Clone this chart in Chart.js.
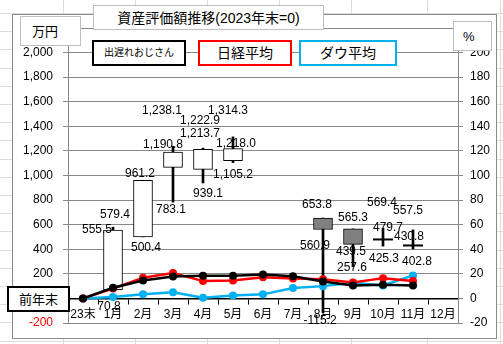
<!DOCTYPE html>
<html>
<head>
<meta charset="utf-8">
<script src="https://cdn.jsdelivr.net/npm/chart.js@4.4.0/dist/chart.umd.min.js"></script>
<style>
  html, body { margin: 0; padding: 0; }
  body {
    width: 503px; height: 344px; position: relative; overflow: hidden;
    background-color: #fff;
    background-image:
      repeating-linear-gradient(to bottom, #dcdcdc 0, #dcdcdc 1px, transparent 1px, transparent 18.2px),
      linear-gradient(to right,
        transparent 63px, #dcdcdc 63px, #dcdcdc 64px, transparent 64px,
        transparent 135px, #dcdcdc 135px, #dcdcdc 136px, transparent 136px,
        transparent 207px, #dcdcdc 207px, #dcdcdc 208px, transparent 208px,
        transparent 279px, #dcdcdc 279px, #dcdcdc 280px, transparent 280px,
        transparent 351px, #dcdcdc 351px, #dcdcdc 352px, transparent 352px,
        transparent 427px, #dcdcdc 427px, #dcdcdc 428px, transparent 428px,
        transparent 500px, #dcdcdc 500px, #dcdcdc 501px, transparent 501px);
    background-position: 0 13px, 0 0;
    font-family: 'Liberation Sans', 'Noto Sans CJK JP', sans-serif;
  }
  #c { position: absolute; left: 0; top: 0; }
  .box {
    position: absolute; box-sizing: border-box; background: #fff;
    display: flex; align-items: center; justify-content: center;
    line-height: 1; color: #000; white-space: nowrap; z-index: 2;
  }
</style>
</head>
<body>
<canvas id="c" width="503" height="344"></canvas>

<div class="box" style="left:93px;top:5px;width:231px;height:25px;border:1px solid #bfbfbf;font-size:14px;">資産評価額推移(2023年末=0)</div>
<div class="box" style="left:20px;top:16px;width:61px;height:30px;border:1px solid #bfbfbf;font-size:13px;justify-content:flex-start;padding-left:11px;">万円</div>
<div class="box" style="left:453px;top:21px;width:39px;height:30px;border:1px solid #bfbfbf;font-size:13px;justify-content:flex-start;padding-left:9px;">%</div>
<div class="box" style="left:92px;top:40px;width:94px;height:26px;border:2px solid #000;font-size:10px;">出遅れおじさん</div>
<div class="box" style="left:198px;top:40px;width:94px;height:26px;border:2px solid #ff0000;font-size:14px;">日経平均</div>
<div class="box" style="left:299px;top:40px;width:98px;height:26px;border:2px solid #00b0f0;font-size:14px;">ダウ平均</div>
<div class="box" style="left:7px;top:286px;width:63px;height:26px;border:2px solid #000;font-size:13px;">前年末</div>

<script>
// months
const labels = ['23末','1月','2月','3月','4月','5月','6月','7月','8月','9月','10月','11月','12月'];

// 出遅れおじさん 資産 (万円) : 始値・高値・安値・終値
const openVals  = [null, 70.8, 500.4, 1066, 1050, 1120, null, null, 653.8, 565.3, 479.7, 430.8, null];
const highVals  = [null, 579.4, 961.2, 1238.1, 1222.9, 1314.3, null, null, 653.8, 565.3, 569.4, 557.5, null];
const lowVals   = [null, 70.8, 500.4, 783.1, 939.1, 1105.2, null, null, -115.2, 257.6, 425.3, 402.8, null];
const closeVals = [null, 555.5, 961.2, 1190.8, 1213.7, 1218.0, null, null, 560.9, 439.5, 479.7, 430.8, null];

// 騰落率 (%)
const ojisanPct = [0, 8.7, 14.6, 17.9, 18.4, 18.4, 19.5, 18.1, 13.8, 10.6, 11.1, 10.6, null];
const nikkeiPct = [0, 8.0, 16.8, 20.6, 14.1, 14.6, 17.3, 16.2, 15.5, 13.0, 16.5, 14.1, null];
const dowPct    = [0, 1.1, 3.3, 5.1, 0.6, 2.4, 3.3, 8.4, 10.0, 12.8, 10.6, 18.7, null];

// which value each data label shows, and its nudge (px) from that point
const labelSpots = [
  [1,'c',-16,0],[1,'h',2,-13],[1,'l',-4,17],
  [2,'h',-3,-7],[2,'l',3,11],
  [3,'h',-11,-36],[3,'c',-10,-7],[3,'l',-2,8],
  [4,'h',-3,-27],[4,'c',-3,-16],[4,'l',5,11],
  [5,'h',-5,-26],[5,'c',3,-5],[5,'l',0,12],
  [8,'o',-6,-13],[8,'c',-8,16],[8,'l',-3,8],
  [9,'h',0,-11],[9,'c',-2,7],[9,'l',-1,1],
  [10,'h',-1,-26],[10,'c',5,-12],[10,'l',1,13],
  [11,'h',-5,-19],[11,'c',-4,-9],[11,'l',4,13]
];

const series = { o: openVals, h: highVals, l: lowVals, c: closeVals };

const wickData = labels.map((_, i) => highVals[i] == null ? null : [lowVals[i], highVals[i]]);
const bodyData = labels.map((_, i) => (openVals[i] == null || openVals[i] === closeVals[i]) ? null : [openVals[i], closeVals[i]]);
const bodyColors = labels.map((_, i) => closeVals[i] >= openVals[i] ? '#ffffff' : '#808080');
const dojiData = labels.map((_, i) => (openVals[i] != null && openVals[i] === closeVals[i]) ? closeVals[i] : null);

const fmt = v => v.toLocaleString('en-US', { minimumFractionDigits: 1, maximumFractionDigits: 1 });

const frame = {
  id: 'frame',
  beforeDraw(chart) {
    const ctx = chart.ctx;
    ctx.save();
    ctx.fillStyle = '#fff';
    ctx.fillRect(12, 14, 485, 325);
    ctx.strokeStyle = '#8a8a8a';
    ctx.lineWidth = 1;
    ctx.strokeRect(12.5, 14.5, 484, 324);
    ctx.restore();
  }
};

const valueLabels = {
  id: 'valueLabels',
  afterDatasetsDraw(chart) {
    const ctx = chart.ctx;
    const xs = chart.scales.x, ys = chart.scales.y;
    ctx.save();
    ctx.font = "12px 'Liberation Sans', sans-serif";
    ctx.fillStyle = '#000';
    ctx.textAlign = 'center';
    ctx.textBaseline = 'middle';
    labelSpots.forEach(([i, k, dx, dy]) => {
      const v = series[k][i];
      ctx.fillText(fmt(v), xs.getPixelForValue(i) + dx, ys.getPixelForValue(v) + dy);
    });
    ctx.restore();
  }
};

Chart.defaults.font.family = "'Liberation Sans', 'Noto Sans CJK JP', sans-serif";
Chart.defaults.font.size = 12;
Chart.defaults.color = '#000';

new Chart(document.getElementById('c'), {
  type: 'bar',
  data: {
    labels: labels,
    datasets: [
      { type: 'line', label: '出遅れおじさん', data: ojisanPct, yAxisID: 'y2', order: 1,
        borderColor: '#000', backgroundColor: '#000', borderWidth: 2.5,
        pointRadius: 4, pointBorderWidth: 0, pointBackgroundColor: '#000', tension: 0 },
      { type: 'line', label: '日経平均', data: nikkeiPct, yAxisID: 'y2', order: 2,
        borderColor: '#ff0000', backgroundColor: '#ff0000', borderWidth: 2.5,
        pointRadius: 4, pointBorderWidth: 0, pointBackgroundColor: '#ff0000', tension: 0 },
      { type: 'line', label: 'ダウ平均', data: dowPct, yAxisID: 'y2', order: 3,
        borderColor: '#00b0f0', backgroundColor: '#00b0f0', borderWidth: 2.5,
        pointRadius: 4, pointBorderWidth: 0, pointBackgroundColor: '#00b0f0', tension: 0 },
      { type: 'line', label: 'doji', data: dojiData, yAxisID: 'y', order: 4, showLine: false,
        pointStyle: 'line', pointRadius: 10, pointBorderWidth: 2, borderColor: '#000' },
      { label: 'body', data: bodyData, yAxisID: 'y', order: 5, grouped: false,
        barThickness: 19, backgroundColor: bodyColors, borderColor: '#000', borderWidth: 1, borderSkipped: false },
      { label: 'wick', data: wickData, yAxisID: 'y', order: 6, grouped: false,
        barThickness: 2, backgroundColor: '#000', borderWidth: 0 }
    ]
  },
  options: {
    responsive: false,
    devicePixelRatio: 1,
    animation: false,
    layout: { padding: { left: 12, right: 6, top: 28, bottom: 21 } },
    plugins: { legend: { display: false }, tooltip: { enabled: false }, title: { display: false } },
    scales: {
      x: {
        position: { y: 0 },
        offset: true,
        grid: { display: true, drawOnChartArea: false, drawTicks: true, tickLength: 5, color: '#000', offset: true },
        border: { display: true, color: '#000', width: 1.5 },
        ticks: { color: '#000', padding: 4, maxRotation: 0, autoSkip: false }
      },
      y: {
        position: 'left', min: -200, max: 2200,
        ticks: {
          stepSize: 200, padding: 10,
          color: ctx => ctx.tick.value < 0 ? '#ff0000' : '#000',
          callback: v => v === 2200 ? '' : v.toLocaleString('en-US')
        },
        grid: { color: '#888', tickLength: 5 },
        border: { color: '#888' },
        afterFit: s => { s.width = 56; }
      },
      y2: {
        position: 'right', min: -20, max: 220,
        ticks: { stepSize: 20, padding: 7, callback: v => v === 220 ? '' : v },
        grid: { drawOnChartArea: false, tickLength: 5, color: '#888' },
        border: { color: '#888' },
        afterFit: s => { s.width = 39; }
      }
    }
  },
  plugins: [frame, valueLabels]
});
</script>
</body>
</html>
